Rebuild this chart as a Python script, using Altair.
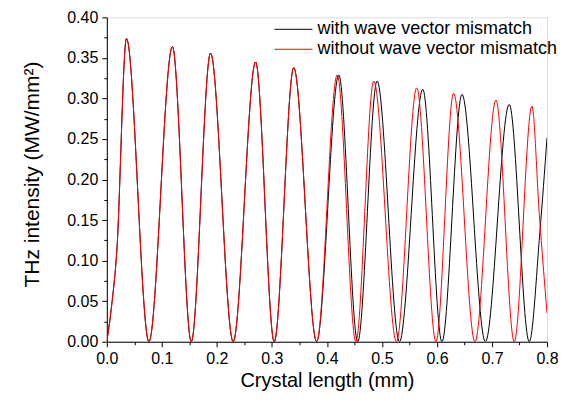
import altair as alt
import pandas as pd

# Shared part (curves coincide up to ~0.38 mm)
shared_x = [0.0, 0.009, 0.018, 0.0357, 0.0765, 0.1192, 0.1535, 0.1885, 0.2296, 0.2704, 0.3042, 0.3397, 0.3813]
shared_y = [0.0, 0.046, 0.110, 0.374, 0.0, 0.364, 0.0, 0.356, 0.0, 0.345, 0.0, 0.338, 0.0]

# with wave vector mismatch (black), after 0.38 mm
with_x = [0.4216, 0.456, 0.4912, 0.5318, 0.5742, 0.609, 0.6455, 0.688, 0.7313, 0.7677, 0.787, 0.8]
with_y = [0.329, 0.0, 0.3215, 0.0, 0.3112, 0.0, 0.305, 0.0, 0.2927, 0.0, 0.135, 0.2515]

# without wave vector mismatch (red), after 0.38 mm
without_x = [0.4187, 0.4526, 0.4851, 0.5264, 0.5632, 0.5982, 0.6302, 0.669, 0.7072, 0.7405, 0.7726, 0.786, 0.8]
without_y = [0.329, 0.0, 0.3215, 0.0, 0.313, 0.0, 0.3063, 0.0, 0.298, 0.0, 0.2905, 0.157, 0.035]

series_names = ["with wave vector mismatch", "without wave vector mismatch"]
series_colors = ["#000000", "#ff0000"]

x_ticks = [0.05 * i for i in range(17)]
y_ticks = [0.025 * i for i in range(17)]

rows = []
for xs, ys, name in [
    (shared_x + with_x, shared_y + with_y, series_names[0]),
    (shared_x + without_x, shared_y + without_y, series_names[1]),
]:
    for i, (x, y) in enumerate(zip(xs, ys)):
        rows.append({"x": x, "y": y, "series": name, "order": i})
df = pd.DataFrame(rows)

FONT = "Liberation Sans"

x_major_test = "abs(datum.value*10 - round(datum.value*10)) < 0.01"
y_major_test = "abs(datum.value*20 - round(datum.value*20)) < 0.01"

x_axis = alt.Axis(
    values=x_ticks,
    labelExpr=f"{x_major_test} ? format(datum.value, '.1f') : ''",
    tickSize={"condition": {"test": x_major_test, "value": 5}, "value": 3},
    grid=False, domainColor="black", tickColor="black", labelColor="black",
    labelFont=FONT, labelFontSize=16, labelPadding=4, labelOverlap=False,
    labelFlush=False,
    title="Crystal length (mm)", titleFont=FONT, titleFontSize=20,
    titleFontWeight="normal", titleColor="black", titlePadding=4,
)
y_axis = alt.Axis(
    values=y_ticks,
    labelExpr=f"{y_major_test} ? format(datum.value, '.2f') : ''",
    tickSize={"condition": {"test": y_major_test, "value": 5}, "value": 3},
    grid=False, domainColor="black", tickColor="black", labelColor="black",
    labelFont=FONT, labelFontSize=16, labelPadding=4, labelOverlap=False,
    labelFlush=False,
    title="THz intensity (MW/mm²)", titleFont=FONT, titleFontSize=21,
    titleFontWeight="normal", titleColor="black", titlePadding=24,
    titleY=157,
)

lines = alt.Chart(df).mark_line(strokeWidth=1, interpolate="monotone", clip=True).encode(
    x=alt.X("x:Q", scale=alt.Scale(domain=[0, 0.8], nice=False, zero=False), axis=x_axis),
    y=alt.Y("y:Q", scale=alt.Scale(domain=[0, 0.4], nice=False), axis=y_axis),
    color=alt.Color("series:N", scale=alt.Scale(domain=series_names, range=series_colors), legend=None),
    order="order:Q",
    detail="series:N",
)

# legend drawn inside the plot (top-right)
leg = pd.DataFrame({"series": series_names, "row": [0, 1]})
row_scale = alt.Scale(domain=[0, 1], range=[12, 32])
leg_rule = alt.Chart(leg).mark_rule(strokeWidth=1).encode(
    x=alt.value(168), x2=alt.value(206),
    y=alt.Y("row:Q", scale=row_scale, axis=None),
    color=alt.Color("series:N", scale=alt.Scale(domain=series_names, range=series_colors), legend=None),
)
leg_text = alt.Chart(leg).mark_text(
    align="left", baseline="middle", font=FONT, fontSize=18, color="black"
).encode(
    x=alt.value(211),
    y=alt.Y("row:Q", scale=row_scale, axis=None),
    text="series:N",
)

chart = alt.layer(lines, leg_rule, leg_text).resolve_scale(y="independent").properties(
    width=441, height=325, autosize="none",
    padding={"left": 99, "top": 9, "right": 11, "bottom": 50},
).configure_view(strokeWidth=0).configure(background="white")

chart.save("out.html", embed_options={"renderer": "svg", "actions": False})
